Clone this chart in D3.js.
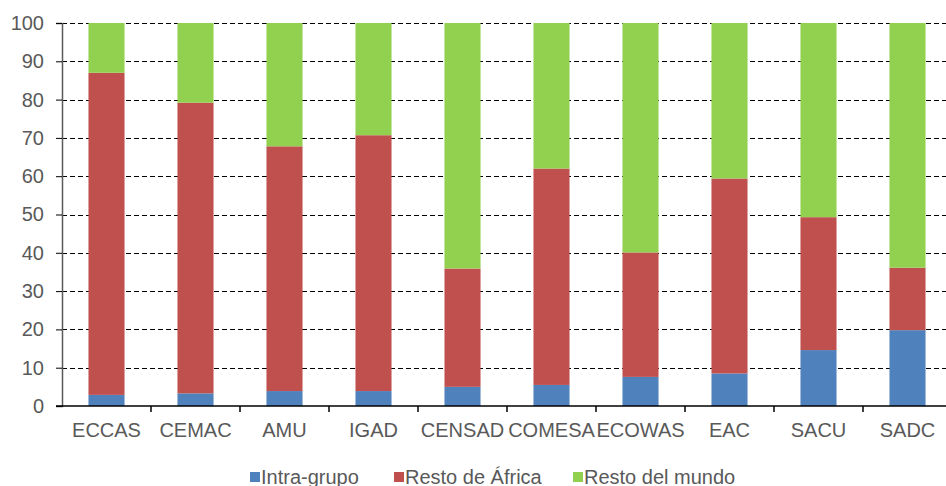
<!DOCTYPE html>
<html lang="es">
<head>
<meta charset="utf-8">
<title>Comercio por agrupación</title>
<script src="https://cdn.jsdelivr.net/npm/d3@7"></script>
<style>
  body { margin: 0; background: #fff; }
  svg { display: block; overflow: hidden; }
  text { font-family: "Liberation Sans", Arial, sans-serif; fill: #595959; }
</style>
</head>
<body>
<script>
// data (percent of trade)
var groups = ["ECCAS", "CEMAC", "AMU", "IGAD", "CENSAD", "COMESA", "ECOWAS", "EAC", "SACU", "SADC"];
var intraGrupo   = [2.9, 3.3, 3.9, 3.9, 5.0, 5.5, 7.6, 8.5, 14.6, 19.8];
var restoAfrica  = [84.1, 75.9, 63.9, 66.8, 30.9, 56.5, 32.5, 50.9, 34.7, 16.3];
var restoMundo   = [13.0, 20.8, 32.2, 29.3, 64.1, 38.0, 59.9, 40.6, 50.7, 63.9];
var seriesNames  = ["Intra-grupo", "Resto de África", "Resto del mundo"];
var seriesColors = ["#4F81BD", "#C0504D", "#92D050"];
var yTicks = [0, 10, 20, 30, 40, 50, 60, 70, 80, 90, 100];

var W = 946, H = 486;
var margin = {top: 23, left: 62, bottom: 80};
var plotRight = 952;  // plot area runs slightly past the image edge
var plotBottom = H - margin.bottom;
var fontSize = "20px";

var svg = d3.select("body").append("svg")
    .attr("width", W)
    .attr("height", H);

// build table rows for stacking
var rows = groups.map(function(g, i) {
    return {group: g, "Intra-grupo": intraGrupo[i], "Resto de África": restoAfrica[i], "Resto del mundo": restoMundo[i]};
});
var stack = d3.stack().keys(seriesNames);
var stacked = stack(rows);

var x = d3.scaleBand().domain(groups).range([margin.left, plotRight]).padding(0);
var y = d3.scaleLinear().domain([0, 100]).range([plotBottom, margin.top]);
var color = d3.scaleOrdinal().domain(seriesNames).range(seriesColors);
var barW = x.bandwidth() * 0.405;

// dashed gridlines
svg.append("g")
    .selectAll("line")
    .data(yTicks.filter(function(d) { return d > 0; }))
  .enter().append("line")
    .attr("x1", margin.left)
    .attr("x2", plotRight)
    .attr("y1", function(d) { return Math.round(y(d)) + 0.5; })
    .attr("y2", function(d) { return Math.round(y(d)) + 0.5; })
    .attr("stroke", "#000")
    .attr("stroke-width", 1.1)
    .attr("stroke-dasharray", "5,3");

// bars
svg.append("g")
    .selectAll("g")
    .data(stacked)
  .enter().append("g")
    .attr("fill", function(d) { return color(d.key); })
  .selectAll("rect")
    .data(function(d) { return d; })
  .enter().append("rect")
    .attr("x", function(d) { return x(d.data.group) + (x.bandwidth() - barW) / 2; })
    .attr("y", function(d) { return y(d[1]); })
    .attr("width", barW)
    .attr("height", function(d) { return y(d[0]) - y(d[1]); });

// y axis
var yAxis = d3.axisLeft(y).tickValues(yTicks).tickSize(6).tickPadding(12);
var gy = svg.append("g")
    .attr("transform", "translate(" + margin.left + ",0)")
    .call(yAxis);
gy.select(".domain").attr("stroke", "#595959").attr("stroke-width", 1.5);
gy.selectAll(".tick line").attr("stroke", "#000");
gy.selectAll("text").style("font-size", fontSize).attr("fill", "#595959");

// x axis: ticks between categories
var gx = svg.append("g")
    .attr("transform", "translate(0," + plotBottom + ")");
gx.append("line")
    .attr("x1", margin.left - 6)
    .attr("x2", plotRight)
    .attr("stroke", "#000")
    .attr("stroke-width", 1.5);
gx.selectAll(".sep")
    .data(groups)
  .enter().append("line")
    .attr("class", "sep")
    .attr("x1", function(d) { return Math.round(x(d) + x.bandwidth()); })
    .attr("x2", function(d) { return Math.round(x(d) + x.bandwidth()); })
    .attr("y1", 0)
    .attr("y2", 6)
    .attr("stroke", "#000")
    .attr("stroke-width", 1.5);
gx.selectAll(".lbl")
    .data(groups)
  .enter().append("text")
    .attr("class", "lbl")
    .attr("x", function(d) { return x(d) + x.bandwidth() / 2; })
    .attr("y", 31)
    .attr("text-anchor", "middle")
    .style("font-size", fontSize)
    .text(function(d) { return d; });

// legend
var legendX = [250, 394, 573];
var legend = svg.append("g").selectAll("g")
    .data(seriesNames)
  .enter().append("g")
    .attr("transform", function(d, i) { return "translate(" + legendX[i] + ",472)"; });
legend.append("rect")
    .attr("width", 10)
    .attr("height", 10)
    .attr("fill", function(d) { return color(d); });
legend.append("text")
    .attr("x", 11)
    .attr("y", 12)
    .style("font-size", fontSize)
    .text(function(d) { return d; });
</script>
</body>
</html>
